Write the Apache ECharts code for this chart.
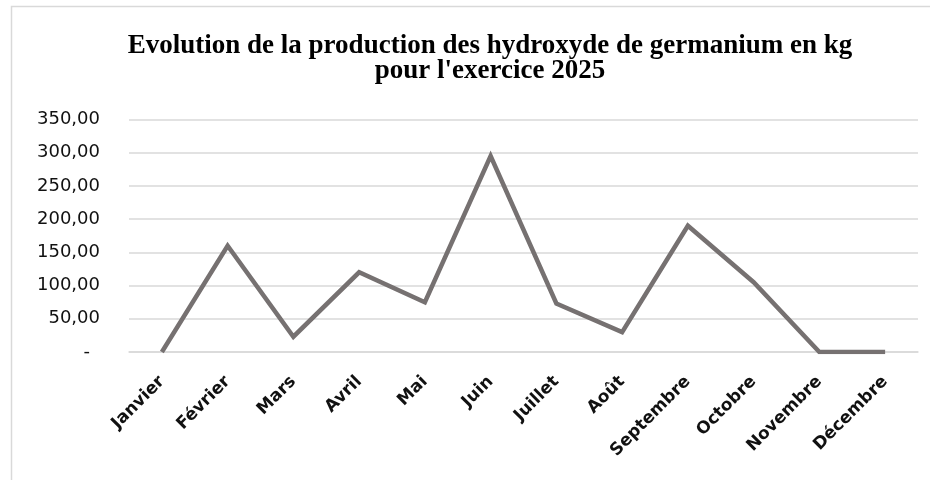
<!DOCTYPE html>
<html>
<head>
<meta charset="utf-8">
<script src="https://cdn.jsdelivr.net/npm/echarts@6/dist/echarts.min.js"></script>
<style>
  html, body { margin: 0; padding: 0; background: #fff; }
  #chart { width: 930px; height: 480px; }
</style>
</head>
<body>
<div id="chart"></div>
<script>
// mois de l'exercice
var months = ['Janvier', 'Février', 'Mars', 'Avril', 'Mai', 'Juin',
  'Juillet', 'Août', 'Septembre', 'Octobre', 'Novembre', 'Décembre']
// production en kg
var production = [0, 160, 23, 120, 75, 295, 73, 30, 190, 105, 0, 0]
// graduations de l'axe vertical
var yTicks = [0, 50, 100, 150, 200, 250, 300, 350]
var yTickLabels = ['-', '50,00', '100,00', '150,00', '200,00', '250,00', '300,00', '350,00']

var chart = echarts.init(document.getElementById('chart'), null, { renderer: 'canvas' })

chart.setOption({
  animation: false,
  backgroundColor: '#fff',
  title: {
    text: 'Evolution de la production des hydroxyde de germanium en kg\npour l\'exercice 2025',
    left: 485,
    top: 29,
    textAlign: 'center',
    textStyle: {
      fontFamily: 'Liberation Serif',
      fontWeight: 'bold',
      fontSize: 27,
      lineHeight: 25,
      color: '#000'
    }
  },
  // cadre du graphique
  graphic: [{
    type: 'rect',
    shape: { x: 11.5, y: 6.5, width: 940, height: 500 },
    style: { fill: 'none', stroke: '#d9d9d9', lineWidth: 1.5 },
    silent: true
  }],
  grid: {
    left: 129,
    right: 12,
    top: 119.5,
    bottom: 128,
    containLabel: false
  },
  xAxis: {
    type: 'category',
    data: months,
    boundaryGap: true,
    axisLine: { lineStyle: { color: '#d9d9d9', width: 1.5 } },
    axisTick: { show: false },
    axisLabel: {
      interval: 0,
      rotate: 45,
      margin: 27,
      fontFamily: 'DejaVu Sans',
      fontWeight: 'bold',
      fontSize: 17,
      color: '#111'
    }
  },
  yAxis: {
    type: 'value',
    min: 0,
    max: 350,
    interval: 50,
    axisLine: { show: false },
    axisTick: { show: false },
    splitLine: { lineStyle: { color: '#d9d9d9', width: 1.5 } },
    axisLabel: {
      margin: 29,
      fontFamily: 'DejaVu Sans',
      fontSize: 18,
      color: '#111',
      formatter: function (v) {
        var i = yTicks.indexOf(v)
        var s = i >= 0 ? yTickLabels[i] : ''
        return v === 0 ? '{dash|' + s + '}' : s
      },
      rich: {
        dash: { fontFamily: 'DejaVu Sans', fontSize: 18, color: '#111', padding: [0, 10, 0, 0] }
      }
    }
  },
  series: [{
    name: 'Production',
    type: 'line',
    data: production,
    symbol: 'none',
    smooth: false,
    lineStyle: { color: '#767171', width: 4.5, join: 'miter' }
  }]
})
</script>
</body>
</html>
